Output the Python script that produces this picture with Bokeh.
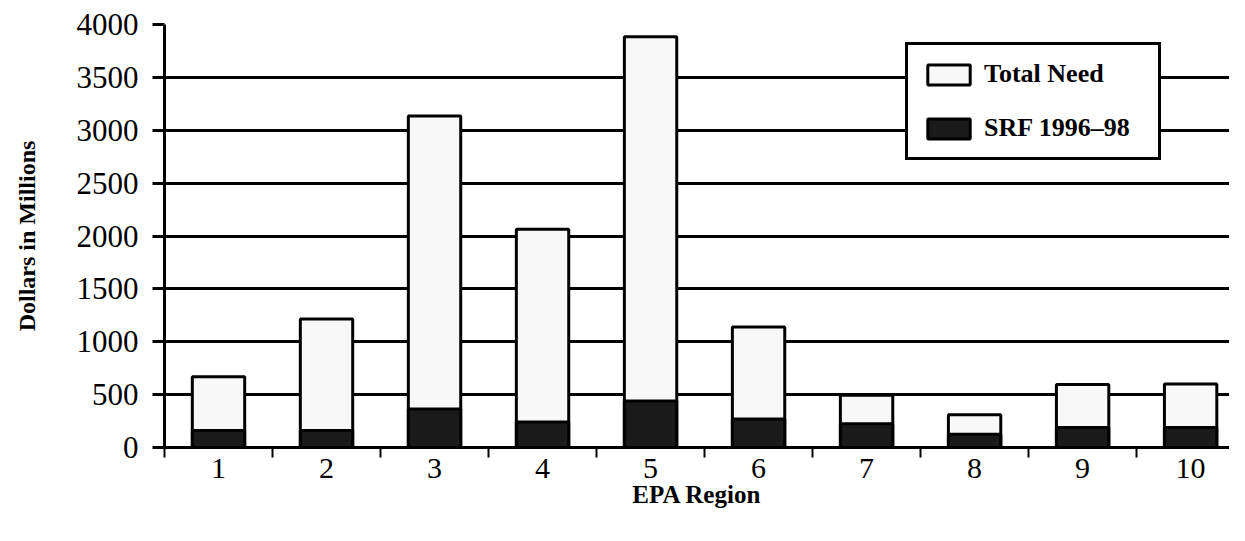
from bokeh.plotting import figure
from bokeh.models import Range1d, FixedTicker, Legend, LegendItem
from bokeh.embed import file_html
from bokeh.resources import INLINE

regions = [1, 2, 3, 4, 5, 6, 7, 8, 9, 10]
region_labels = ["1", "2", "3", "4", "5", "6", "7", "8", "9", "10"]
total_need = [670, 1215, 3135, 2065, 3885, 1140, 495, 310, 595, 600]
srf_1996_98 = [160, 160, 365, 240, 440, 270, 225, 125, 190, 190]
y_ticks = [0, 500, 1000, 1500, 2000, 2500, 3000, 3500, 4000]

SERIF = "Liberation Serif"

p = figure(width=1229, height=525, output_backend="svg", toolbar_location=None,
           x_range=Range1d(0.5, 10.36), y_range=Range1d(0, 4000),
           min_border_left=164, min_border_top=24, min_border_bottom=78,
           min_border_right=0)
p.outline_line_color = None
p.background_fill_color = "white"
p.border_fill_color = "white"

r_total = p.vbar(x=regions, top=total_need, bottom=0, width=0.485,
                 fill_color="#f8f8f8", line_color="black", line_width=3)
r_srf = p.vbar(x=regions, top=srf_1996_98, bottom=0, width=0.485,
               fill_color="#1a1a1a", line_color="black", line_width=3)

# x axis: labels at category centres, tick marks at category boundaries
p.xaxis.ticker = FixedTicker(ticks=regions,
                             minor_ticks=[r - 0.5 for r in regions] + [10.5])
p.xaxis.major_label_overrides = {r: l for r, l in zip(regions, region_labels)}
p.xaxis.major_tick_out = 0
p.xaxis.major_tick_in = 0
p.xaxis.minor_tick_out = 10
p.xaxis.minor_tick_in = 0
p.xaxis.minor_tick_line_color = "black"
p.xaxis.minor_tick_line_width = 2
p.xaxis.axis_line_width = 3
p.xaxis.axis_line_color = "black"
p.xaxis.major_label_text_font = SERIF
p.xaxis.major_label_text_font_size = "30px"
p.xaxis.major_label_text_color = "black"
p.xaxis.major_label_standoff = 1
p.xaxis.axis_label = "EPA Region"
p.xaxis.axis_label_text_font = SERIF
p.xaxis.axis_label_text_font_size = "25px"
p.xaxis.axis_label_text_font_style = "bold"
p.xaxis.axis_label_text_color = "black"
p.xaxis.axis_label_standoff = 0
p.xgrid.grid_line_color = None

p.yaxis.ticker = FixedTicker(ticks=y_ticks)
p.yaxis.minor_tick_line_color = None
p.yaxis.major_tick_out = 12
p.yaxis.major_tick_in = 0
p.yaxis.major_tick_line_width = 3
p.yaxis.major_tick_line_color = "black"
p.yaxis.axis_line_width = 3
p.yaxis.axis_line_color = "black"
p.yaxis.major_label_text_font = SERIF
p.yaxis.major_label_text_font_size = "31px"
p.yaxis.major_label_text_color = "black"
p.yaxis.major_label_standoff = 14
p.yaxis.axis_label = "Dollars in Millions"
p.yaxis.axis_label_text_font = SERIF
p.yaxis.axis_label_text_font_size = "24px"
p.yaxis.axis_label_text_font_style = "bold"
p.yaxis.axis_label_text_color = "black"
p.yaxis.axis_label_standoff = 34

p.ygrid.ticker = FixedTicker(ticks=y_ticks)
p.ygrid.grid_line_color = "black"
p.ygrid.grid_line_width = 3
p.ygrid.level = "underlay"

legend = Legend(items=[LegendItem(label="Total Need", renderers=[r_total]),
                       LegendItem(label="SRF 1996\u201398", renderers=[r_srf])],
                location=(741, 287))
legend.margin = 0
legend.padding = 14
legend.spacing = 24
legend.glyph_width = 53
legend.glyph_height = 25
legend.label_standoff = 9
legend.label_width = 160
legend.label_text_font = SERIF
legend.label_text_font_size = "26px"
legend.label_text_font_style = "bold"
legend.label_text_color = "black"
legend.border_line_color = "black"
legend.border_line_alpha = 1
legend.border_line_width = 3
legend.background_fill_color = "white"
legend.background_fill_alpha = 1
p.add_layout(legend, "center")

open("out.html", "w").write(file_html(p, INLINE))
